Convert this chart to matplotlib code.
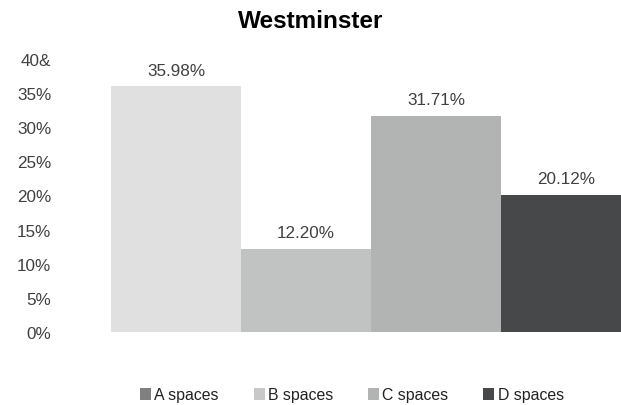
import matplotlib.pyplot as plt
from matplotlib.patches import Patch

plt.rcParams["font.family"] = ["Liberation Sans", "DejaVu Sans"]

categories = ["A spaces", "B spaces", "C spaces", "D spaces"]
values = [35.98, 12.20, 31.71, 20.12]
bar_colors = ["#e0e0e0", "#c1c3c2", "#b1b4b3", "#47484a"]
legend_colors = ["#808080", "#c8c8c8", "#b1b4b3", "#47484a"]
ytick_vals = [0, 5, 10, 15, 20, 25, 30, 35, 40]
ytick_labels = ["0%", "5%", "10%", "15%", "20%", "25%", "30%", "35%", "40&"]

fig = plt.figure(figsize=(6.21, 4.06), dpi=100)
ax = fig.add_axes([111 / 621, 1 - 333 / 406, 510 / 621, 273 / 406])

x = range(len(values))
bars = ax.bar(x, values, width=1.0, color=bar_colors)
for b, v in zip(bars, values):
    ax.annotate(f"{v:.2f}%", (b.get_x() + b.get_width() / 2, v),
                xytext=(0, 6), textcoords="offset points",
                ha="center", va="bottom", fontsize=12.3, color="#404040")

ax.set_xlim(-0.5, -0.5 + 510 / 130)
ax.set_ylim(0, 40)
ax.set_yticks(ytick_vals)
ax.set_yticklabels(ytick_labels, fontsize=12.3, color="#404040")
ax.set_xticks([])
ax.tick_params(axis="y", length=0, pad=43)
for s in ax.spines.values():
    s.set_visible(False)

fig.suptitle("Westminster", fontsize=17.5, fontweight="bold", y=1 - 21 / 406, va="center")

handles = [Patch(facecolor=c, edgecolor="none") for c in legend_colors]
fig.legend(handles, categories, loc="center", bbox_to_anchor=(352 / 621, 1 - 396 / 406),
           ncol=4, frameon=False, fontsize=11.4, handlelength=0.7, handleheight=0.7,
           handletextpad=0.2, columnspacing=2.2, labelcolor="#222222")

fig.savefig("out.png", dpi=100)
